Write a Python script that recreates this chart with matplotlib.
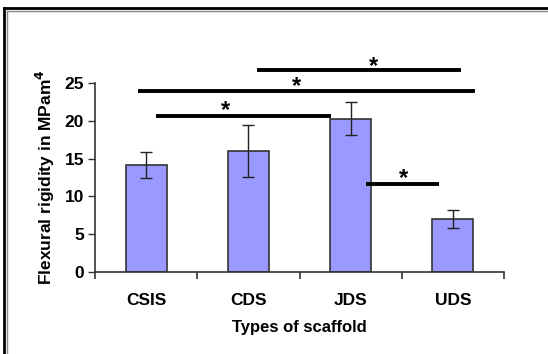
import matplotlib.pyplot as plt
from matplotlib.lines import Line2D
import numpy as np

plt.rcParams['font.family'] = ['Liberation Sans', 'DejaVu Sans']
plt.rcParams['font.weight'] = 'bold'

scaffolds = ['CSIS', 'CDS', 'JDS', 'UDS']
rigidity = [14.2, 16.0, 20.3, 7.0]
err = [1.7, 3.4, 2.2, 1.2]

# significance bars: (x start, x end, height), star at (x, y)
sig_lines = [(1.08, 3.08, 26.7), (-0.08, 3.22, 24.0), (0.10, 1.81, 20.6), (2.15, 2.86, 11.6)]
sig_stars = [(2.22, 27.2), (1.47, 24.5), (0.78, 21.4), (2.52, 12.3)]

fig = plt.figure(figsize=(5.48, 3.54), dpi=100)
ax = fig.add_axes([95/548, 1-272/354, (504-95)/548, (272-83)/354])

x = np.arange(len(scaffolds))
ax.bar(x, rigidity, width=0.4, color='#9999ff', edgecolor='#333333', linewidth=1.2, zorder=2)
ax.errorbar(x, rigidity, yerr=err, fmt='none', ecolor='#222222', elinewidth=1, capsize=4, capthick=1, zorder=3)

for x0, x1, h in sig_lines:
    ax.plot([x0, x1], [h, h], color='black', lw=2.8, clip_on=False, solid_capstyle='butt', zorder=4)
for sx, sy in sig_stars:
    ax.text(sx, sy, '*', ha='center', va='center', fontsize=17, fontweight='bold', clip_on=False)

ax.set_xlim(-0.5, 3.5)
ax.set_ylim(0, 25)
ax.set_yticks([0, 5, 10, 15, 20, 25])
ax.set_xticks(np.arange(-0.5, 4, 1))
ax.set_xticklabels([])
ax.set_xticks(x, minor=True)
ax.set_xticklabels(scaffolds, minor=True)
ax.tick_params(axis='x', which='minor', length=0, pad=15, labelsize=12.5)
ax.tick_params(axis='x', which='major', length=5, width=1.2, direction='out', color='#333333')
ax.tick_params(axis='y', length=5, width=1, direction='out', labelsize=12.5, pad=3, color='#333333')
for lab in ax.get_xticklabels(minor=True) + ax.get_yticklabels():
    lab.set_fontweight('bold')

for s in ['top', 'right']:
    ax.spines[s].set_visible(False)
for s in ['left', 'bottom']:
    ax.spines[s].set_color('#333333')
    ax.spines[s].set_linewidth(1.2)

ax.set_xlabel('Types of scaffold', fontsize=12, fontweight='bold', labelpad=9)
ax.set_ylabel('Flexural rigidity in MPam$^\\mathbf{4}$', fontsize=12.5, fontweight='bold', labelpad=5)

# outer frame (top and left edges)
fig.add_artist(Line2D([4/548, 1], [1-8/354, 1-8/354], color='black', lw=2))
fig.add_artist(Line2D([6.5/548, 1], [1-10.5/354, 1-10.5/354], color='#888888', lw=1))
fig.add_artist(Line2D([4/548, 4/548], [0, 1-8/354], color='black', lw=2))
fig.add_artist(Line2D([6.5/548, 6.5/548], [0, 1-10.5/354], color='#888888', lw=1))

fig.savefig('out.png', dpi=100)
